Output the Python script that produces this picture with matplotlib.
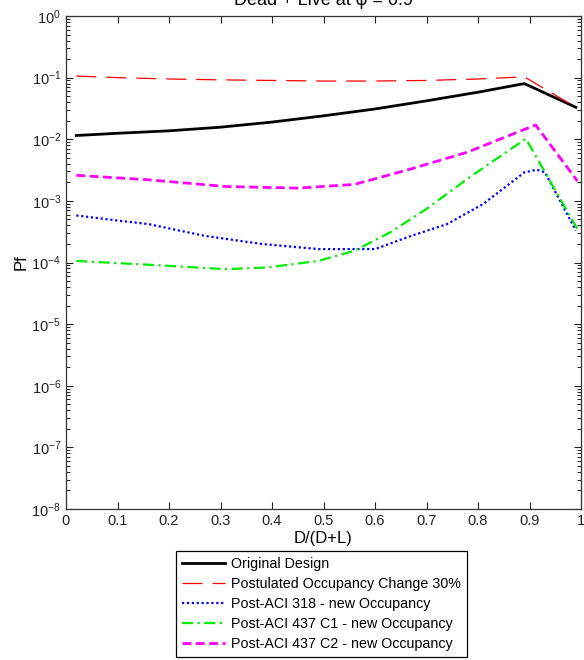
import numpy as np
import matplotlib
matplotlib.use("Agg")
import matplotlib.pyplot as plt
from matplotlib.ticker import LogLocator, NullFormatter, FixedLocator

plt.rcParams['font.family'] = ['Liberation Sans', 'DejaVu Sans']
plt.rcParams['mathtext.fontset'] = 'custom'
plt.rcParams['mathtext.rm'] = 'Liberation Sans'
plt.rcParams['mathtext.it'] = 'Liberation Sans:italic'

# D/(D+L) sample points for each curve
x_orig = [0.02, 0.1, 0.2, 0.3, 0.4, 0.5, 0.6, 0.7, 0.8, 0.89, 0.99]
pf_orig = [0.0115, 0.0125, 0.0137, 0.0157, 0.019, 0.024, 0.031, 0.042, 0.058, 0.080, 0.033]

x_post = [0.02, 0.1, 0.2, 0.3, 0.4, 0.5, 0.6, 0.7, 0.8, 0.89, 0.99]
pf_post = [0.106, 0.100, 0.095, 0.092, 0.090, 0.088, 0.088, 0.090, 0.095, 0.103, 0.033]

x_318 = [0.02, 0.1, 0.16, 0.27, 0.38, 0.49, 0.6, 0.67, 0.74, 0.81, 0.89, 0.914, 0.93, 0.99]
pf_318 = [5.8e-4, 4.8e-4, 4.2e-4, 2.7e-4, 2.0e-4, 1.65e-4, 1.65e-4, 2.7e-4, 4.2e-4, 8.9e-4, 2.9e-3, 3.2e-3, 2.9e-3, 3.3e-4]

x_c1 = [0.02, 0.16, 0.31, 0.39, 0.49, 0.56, 0.63, 0.70, 0.78, 0.85, 0.893, 0.993]
pf_c1 = [1.06e-4, 9.2e-5, 7.8e-5, 8.3e-5, 1.06e-4, 1.55e-4, 3.1e-4, 7.4e-4, 2.3e-3, 5.8e-3, 1.02e-2, 3.5e-4]

x_c2 = [0.02, 0.16, 0.31, 0.45, 0.56, 0.67, 0.78, 0.886, 0.912, 0.993]
pf_c2 = [2.6e-3, 2.2e-3, 1.71e-3, 1.61e-3, 1.85e-3, 3.3e-3, 6.2e-3, 1.4e-2, 1.7e-2, 2.1e-3]

labels = ["Original Design",
          "Postulated Occupancy Change 30%",
          "Post-ACI 318 - new Occupancy",
          "Post-ACI 437 C1 - new Occupancy",
          "Post-ACI 437 C2 - new Occupancy"]

x_ticks = [0, 0.1, 0.2, 0.3, 0.4, 0.5, 0.6, 0.7, 0.8, 0.9, 1]
x_ticklabels = ["0", "0.1", "0.2", "0.3", "0.4", "0.5", "0.6", "0.7", "0.8", "0.9", "1"]
y_exponents = [0, -1, -2, -3, -4, -5, -6, -7, -8]

fig = plt.figure(figsize=(5.84, 6.60), dpi=100)
ax = fig.add_axes([66/584, 1-509/660, (581-66)/584, (509-16)/660])

ax.plot(x_orig, pf_orig, color='black', lw=2.0, ls='-', label=labels[0])
ax.plot(x_post, pf_post, color='red', lw=0.9, ls=(0, (16, 8)), label=labels[1])
ax.plot(x_318, pf_318, color='blue', lw=1.6, ls=(0, (1, 1.2)), label=labels[2])
ax.plot(x_c1, pf_c1, color='#00ee00', lw=1.6, ls=(0, (5, 2, 1, 2)), label=labels[3])
ax.plot(x_c2, pf_c2, color='magenta', lw=2.0, ls=(0, (3.2, 1.6)), label=labels[4])

ax.set_yscale('log')
ax.set_xlim(0, 1)
ax.set_ylim(1e-8, 1)
ax.xaxis.set_major_locator(FixedLocator(x_ticks))
ax.set_xticklabels(x_ticklabels)
ax.yaxis.set_major_locator(FixedLocator([10.0**e for e in y_exponents]))
ax.set_yticklabels([r"$10^{%d}$" % e for e in y_exponents])
ax.yaxis.set_minor_locator(LogLocator(base=10, subs=np.arange(2, 10), numticks=20))
ax.yaxis.set_minor_formatter(NullFormatter())

ax.tick_params(which='both', direction='in', top=True, right=True, labelsize=10.5, colors='#222222')
ax.tick_params(which='major', length=5, width=0.8)
ax.tick_params(which='minor', length=3, width=0.7)
for s in ax.spines.values():
    s.set_linewidth(0.9)
    s.set_color('#333333')

ax.set_xlabel("D/(D+L)", fontsize=12, labelpad=2)
ax.set_ylabel("Pf", fontsize=12, labelpad=2)

fig.text(323/584, 1-5/660, "Dead + Live at \u03c6 = 0.9", ha='center', va='baseline', fontsize=13)

leg = fig.legend(loc='upper left', bbox_to_anchor=(176/584, 1-551/660), fontsize=10.3,
                 handlelength=3.0, handletextpad=0.45, borderpad=0.4, labelspacing=0.43,
                 borderaxespad=0, fancybox=False, edgecolor='black', framealpha=1)
leg.get_frame().set_linewidth(0.9)

fig.savefig("out.png", dpi=100)
